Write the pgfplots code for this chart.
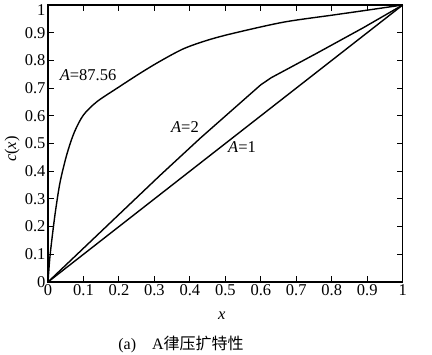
\documentclass[border=0pt]{standalone}
\usepackage{pgfplots}
\pgfplotsset{compat=1.18}
\usepackage{fontspec}
\setmainfont{Liberation Serif}
\newfontfamily\cjk{Noto Sans CJK SC}
\begin{document}
\begin{tikzpicture}
\path[use as bounding box] (-48pt,-73pt) rectangle (384pt,282pt);
\begin{axis}[
  at={(0pt,0pt)}, anchor=origin,
  scale only axis, width=354.7pt, height=277pt,
  xmin=0, xmax=1, ymin=0, ymax=1,
  axis line style={line width=1.3pt},
  xtick={0,0.1,...,1.01}, ytick={0,0.1,...,1.01},
  xticklabels={0,0.1,0.2,0.3,0.4,0.5,0.6,0.7,0.8,0.9,1},
  yticklabels={0,0.1,0.2,0.3,0.4,0.5,0.6,0.7,0.8,0.9,\raisebox{-5pt}[\height][\depth]{1}},
  tick align=inside, major tick length=6pt,
  tick style={line width=1pt, black},
  xtick pos=both, ytick pos=both,
  xticklabel pos=lower, yticklabel pos=left,
  ticklabel style={font=\fontsize{16.5}{18}\selectfont},
  xticklabel style={yshift=1pt},
  yticklabel style={xshift=1pt},
  /pgf/number format/assume math mode=true,
  xlabel={\textit{x}}, ylabel={\textit{c}(\textit{x})},
  label style={font=\fontsize{16.5}{18}\selectfont},
  xlabel style={at={(axis description cs:0.49,-0.12)}, anchor=center},
  ylabel style={at={(axis description cs:-0.101,0.48)}, anchor=center},
  clip=false,
]
\addplot[black, line width=1.4pt, smooth, tension=0.5] coordinates {
 (0,0) (0.005,0.085) (0.012,0.165) (0.021,0.255) (0.034,0.36) (0.053,0.46) (0.074,0.54)
 (0.1,0.603) (0.138,0.651) (0.194,0.699) (0.259,0.753) (0.316,0.797)
 (0.382,0.842) (0.45,0.873) (0.523,0.898) (0.664,0.938) (0.805,0.964) (0.898,0.981) (1,1)
};
\addplot[black, line width=1.4pt] coordinates {
 (0,0) (0.316,0.385) (0.43,0.52) (0.6,0.712) (0.63,0.738) (0.665,0.762)
 (0.758,0.826) (0.889,0.918) (1,1)
};
\addplot[black, line width=1.4pt] coordinates {(0,0) (1,1)};
\node[font=\fontsize{16.5}{18}\selectfont] at (axis cs:0.113,0.747) {\textit{A}=87.56};
\node[font=\fontsize{16.5}{18}\selectfont] at (axis cs:0.386,0.56) {\textit{A}=2};
\node[font=\fontsize{16.5}{18}\selectfont] at (axis cs:0.547,0.487) {\textit{A}=1};
\end{axis}
\node[font=\fontsize{16}{18}\selectfont] at (133pt,-62pt) {(a)\quad A{\cjk 律压扩特性}};
\end{tikzpicture}
\end{document}
